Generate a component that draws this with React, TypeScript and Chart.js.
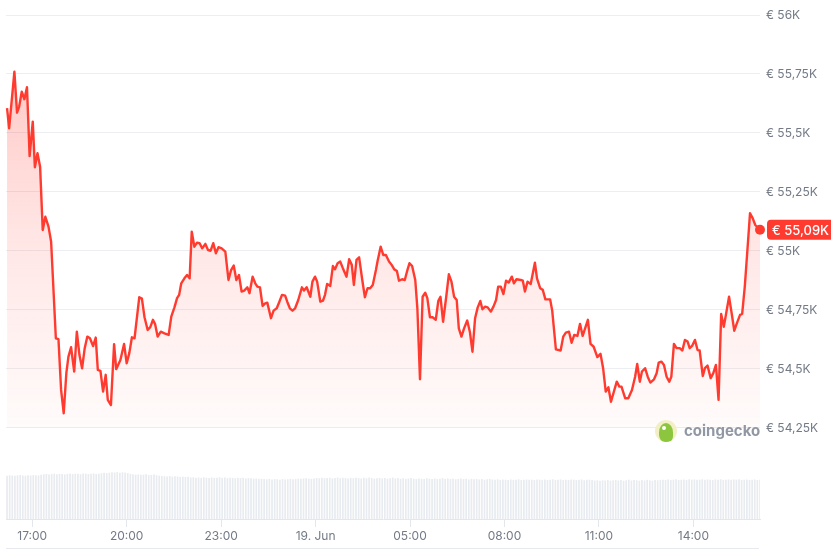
import React, { useEffect, useRef } from 'react';
import { Chart, registerables } from 'chart.js';

Chart.register(...registerables);

// Time in minutes after 16:00 on 18 Jun
const priceTimes = [
  12,16,26,31,35,40,45,50,55,61,
  65,70,75,80,85,91,96,105,110,115,
  120,125,129,134,140,145,150,155,160,165,
  170,176,181,185,190,195,200,204,210,216,
  220,228,235,240,245,250,255,264,269,274,
  280,285,290,294,299,305,312,320,325,331,
  336,340,344,350,355,360,364,369,374,379,
  384,390,395,400,405,410,415,421,428,434,
  439,444,449,454,459,464,470,474,480,485,
  489,494,499,504,508,515,520,526,531,536,
  542,546,551,556,561,567,574,578,583,590,
  594,599,603,609,614,618,622,628,633,637,
  642,647,652,659,664,669,673,678,683,689,
  694,699,704,709,715,718,724,729,734,740,
  745,750,755,759,765,770,775,779,784,790,
  794,799,804,809,813,818,823,829,834,838,
  843,849,854,859,864,869,873,878,883,889,
  894,899,904,909,914,918,923,928,934,939,
  944,948,953,958,963,968,974,978,983,991,
  995,999,1004,1010,1018,1022,1028,1033,1038,1047,
  1051,1058,1067,1072,1077,1083,1088,1093,1099,1104,
  1109,1119,1124,1130,1137,1143,1148,1153,1158,1163,
  1174,1179,1183,1190,1196,1203,1209,1213,1218,1222,
  1228,1233,1238,1245,1250,1254,1259,1264,1269,1274,
  1278,1283,1288,1294,1299,1304,1309,1313,1318,1323,
  1328,1332,1338,1342,1347,1353,1358,1363,1368,1373,
  1378,1382,1388,1393,1398,1403,1409,1413,1418,1423,
  1428,1433,1438,1447,
];

// Price in EUR
const prices = [
  55605,55520,55760,55586,55611,55675,55643,55694,55402,55548,
  55355,55414,55357,55089,55145,55103,55039,54630,54626,54411,
  54312,54482,54552,54592,54489,54658,54559,54503,54588,54637,
  54630,54597,54633,54496,54492,54404,54475,54369,54347,54605,
  54499,54538,54606,54524,54567,54634,54630,54804,54798,54719,
  54665,54677,54708,54691,54637,54658,54651,54644,54722,54761,
  54800,54814,54863,54884,54898,54884,55082,55018,55035,55033,
  55011,55030,55004,55001,55033,54990,55016,55011,54997,54877,
  54919,54938,54877,54898,54828,54832,54846,54821,54891,54863,
  54849,54846,54767,54778,54781,54715,54747,54757,54785,54814,
  54811,54785,54757,54747,54757,54792,54846,54832,54846,54806,
  54870,54891,54870,54785,54789,54814,54860,54852,54936,54922,
  54948,54955,54927,54891,54965,54941,54856,54962,54973,54877,
  54804,54842,54842,54856,54919,54955,55018,54983,54983,54955,
  54941,54922,54915,54874,54880,54877,54919,54948,54936,54877,
  54757,54456,54806,54823,54800,54719,54719,54708,54789,54806,
  54700,54806,54901,54870,54806,54792,54672,54637,54672,54705,
  54658,54573,54715,54761,54788,54753,54764,54761,54743,54764,
  54792,54849,54849,54817,54874,54866,54891,54863,54880,54877,
  54874,54828,54870,54860,54950,54884,54842,54835,54795,54795,
  54747,54583,54578,54637,54654,54658,54611,54644,54640,54691,
  54640,54708,54606,54594,54550,54564,54503,54404,54422,54361,
  54446,54425,54425,54376,54376,54411,54467,54521,54446,54489,
  54503,54467,54442,54456,54482,54527,54531,54517,54467,54446,
  54467,54606,54588,54588,54578,54623,54616,54588,54599,54623,
  54580,54578,54470,54503,54514,54461,54482,54517,54369,54733,
  54679,54729,54806,54736,54662,54694,54729,54733,54849,55004,
  55160,55139,55110,55090,
];

// Volume bars: one every 5 minutes, starting 16:12
const volumeStartMinute = 12;
const volumeStepMinutes = 5;
const volumes = [
  21.5,21.7,21.6,21.4,21.7,21.8,21.6,21.5,21.7,21.6,21.8,21.7,
  21.6,21.9,22.2,22.4,22.1,22.3,22.5,22.2,22.4,22.3,22.1,22.4,
  22.6,22.3,22.5,22.4,22.2,22.6,22.5,22.3,22.4,22.6,22.4,22.5,
  22.7,22.9,22.8,23.0,23.2,23.1,23.3,23.0,23.2,23.1,22.8,22.4,
  22.2,22.0,22.1,21.9,22.0,22.2,21.8,21.9,22.1,21.7,21.5,21.3,
  21.2,21.1,21.3,21.0,21.2,21.1,20.9,21.0,20.8,20.9,20.6,20.7,
  20.5,20.6,20.4,20.7,20.5,20.3,20.6,20.4,20.5,20.7,20.4,20.6,
  20.3,20.5,20.4,20.2,20.5,20.3,20.4,20.1,20.3,20.2,20.0,20.1,
  19.9,20.0,19.8,19.7,19.9,19.6,19.8,19.7,19.5,19.8,19.6,19.7,
  19.9,19.7,19.8,20.0,19.9,20.1,20.2,20.0,19.9,20.1,20.3,20.2,
  20.4,20.2,20.3,20.5,20.1,20.3,20.6,20.2,20.4,20.3,20.1,20.4,
  20.2,20.5,20.3,20.1,20.4,20.2,20.6,20.3,20.0,20.2,20.4,20.1,
  20.3,20.0,20.2,20.6,20.1,20.3,20.0,20.2,19.9,20.1,20.3,20.0,
  19.8,20.1,20.0,19.9,20.2,20.0,19.8,20.1,19.9,20.0,20.3,19.9,
  20.1,19.8,20.0,19.7,19.9,20.1,19.8,20.0,19.6,19.9,19.7,19.8,
  19.6,19.8,19.5,19.7,19.9,19.6,19.5,19.7,19.4,19.6,19.5,19.3,
  19.6,19.4,19.5,19.7,19.3,19.5,19.6,19.4,19.5,19.3,19.6,19.5,
  19.4,19.6,19.3,19.5,19.7,19.4,19.5,19.6,19.3,19.5,19.4,19.6,
  19.5,19.3,19.4,19.6,19.2,19.4,19.5,19.3,19.1,19.2,19.0,19.2,
  19.1,19.3,19.0,19.2,19.4,19.1,19.3,19.0,19.2,19.5,19.1,19.3,
  19.2,19.0,19.3,19.1,19.4,19.2,19.0,19.3,19.2,19.4,19.5,19.3,
  19.6,19.4,19.5,19.7,19.3,19.5,19.6,19.4,19.7,19.5,19.6,19.4,
  19.5,19.7,19.4,19.6,19.5,19.3,19.6,19.5,19.7,19.4,19.5,19.6,
  19.4,19.6,19.5,19.7,19.3,19.5,19.6,19.4,19.5,19.6,19.3,19.5,
];

const xTickValues = [60, 240, 420, 600, 780, 960, 1140, 1320];
const xTickLabels = ['17:00', '20:00', '23:00', '19. Jun', '05:00', '08:00', '11:00', '14:00'];

const priceTickValues = [54250, 54500, 54750, 55000, 55250, 55500, 55750, 56000];
const priceTickLabels = ['€ 54,25K', '€ 54,5K', '€ 54,75K', '€ 55K', '€ 55,25K', '€ 55,5K', '€ 55,75K', '€ 56K'];

const lastPriceLabel = '€ 55,09K';

const RED = '#ff3b30';
const AXIS_TEXT = '#737a86';
const GRID = '#eceef1';
const FONT = 'Inter, "Noto Sans", sans-serif';

const lastPricePlugin = {
  id: 'lastPriceTag',
  afterDraw(chart: any) {
    const { ctx, chartArea, scales } = chart;
    const y = scales.y.getPixelForValue(prices[prices.length - 1]);
    ctx.save();
    ctx.font = `500 13px ${FONT}`;
    const tw = ctx.measureText(lastPriceLabel).width;
    const x0 = chartArea.right + 7;
    const w = tw + 10;
    const h = 20;
    ctx.fillStyle = RED;
    ctx.beginPath();
    if (ctx.roundRect) ctx.roundRect(x0, y - h / 2, w, h, 4);
    else ctx.rect(x0, y - h / 2, w, h);
    ctx.fill();
    ctx.fillStyle = '#ffffff';
    ctx.textBaseline = 'middle';
    ctx.textAlign = 'left';
    ctx.fillText(lastPriceLabel, x0 + 5, y + 1);
    ctx.restore();
  },
};

export default function App() {
  const canvasRef = useRef<HTMLCanvasElement | null>(null);

  useEffect(() => {
    const canvas = canvasRef.current;
    if (!canvas) return;

    const lineData = priceTimes.map((t, i) => ({ x: t, y: prices[i] }));
    const volData = volumes.map((v, i) => ({ x: volumeStartMinute + i * volumeStepMinutes, y: v }));

    const chart = new Chart(canvas, {
      type: 'line',
      data: {
        datasets: [
          {
            type: 'line',
            data: lineData,
            xAxisID: 'x',
            yAxisID: 'y',
            borderColor: RED,
            borderWidth: 2.4,
            borderJoinStyle: 'round',
            tension: 0,
            clip: false as any,
            pointRadius: (c: any) => (c.dataIndex === prices.length - 1 ? 5 : 0),
            pointBackgroundColor: RED,
            pointBorderWidth: 0,
            fill: { value: 54250 } as any,
            backgroundColor: (c: any) => {
              const chart = c.chart;
              const { chartArea, scales } = chart;
              if (!chartArea || !scales.y) return 'rgba(255,59,48,0.12)';
              const g = chart.ctx.createLinearGradient(
                0,
                scales.y.getPixelForValue(55800),
                0,
                scales.y.getPixelForValue(54250)
              );
              g.addColorStop(0, 'rgba(255,59,48,0.28)');
              g.addColorStop(0.5, 'rgba(255,59,48,0.12)');
              g.addColorStop(1, 'rgba(255,59,48,0.02)');
              return g;
            },
            order: 0,
          } as any,
          {
            type: 'bar',
            data: volData,
            xAxisID: 'x',
            yAxisID: 'yv',
            backgroundColor: '#e8ebef',
            barThickness: 1,
            order: 1,
          } as any,
        ],
      },
      options: {
        animation: false,
        responsive: false,
        maintainAspectRatio: false,
        events: [],
        layout: { padding: { left: 6, top: 15, right: 0, bottom: 0 } },
        plugins: {
          legend: { display: false },
          tooltip: { enabled: false },
        },
        scales: {
          x: {
            type: 'linear',
            min: 10,
            max: 1447,
            offset: false,
            position: 'bottom',
            afterBuildTicks: (s: any) => {
              s.ticks = xTickValues.map((v) => ({ value: v }));
            },
            afterFit: (s: any) => {
              s.height = 34;
            },
            grid: {
              offset: false,
              drawOnChartArea: false,
              drawTicks: true,
              tickLength: 8,
              color: '#e3e6ea',
            },
            border: { display: true, color: '#e3e6ea' },
            ticks: {
              autoSkip: false,
              maxRotation: 0,
              padding: 2,
              color: AXIS_TEXT,
              font: { family: FONT, size: 12 },
              callback: (v: any) => {
                const i = xTickValues.indexOf(Number(v));
                return i >= 0 ? xTickLabels[i] : '';
              },
            },
          },
          y: {
            type: 'linear',
            position: 'right',
            min: 53864,
            max: 56000,
            afterBuildTicks: (s: any) => {
              s.ticks = priceTickValues.map((v) => ({ value: v }));
            },
            afterFit: (s: any) => {
              s.width = 71;
            },
            grid: { color: GRID, drawTicks: false },
            border: { display: false },
            ticks: {
              padding: 6,
              color: AXIS_TEXT,
              font: { family: FONT, size: 12 },
              callback: (v: any) => {
                const i = priceTickValues.indexOf(Number(v));
                return i >= 0 ? priceTickLabels[i] : '';
              },
            },
          },
          yv: {
            type: 'linear',
            display: false,
            min: 0,
            max: 252,
          },
        },
      } as any,
      plugins: [lastPricePlugin],
    });

    return () => chart.destroy();
  }, []);

  return (
    <div
      style={{
        position: 'fixed',
        left: 0,
        top: 0,
        width: 831,
        height: 553,
        background: '#ffffff',
        overflow: 'hidden',
      }}
    >
      <canvas ref={canvasRef} width={831} height={553} style={{ display: 'block' }} />
      <div
        style={{
          position: 'absolute',
          left: 655,
          top: 420,
          width: 22,
          height: 22,
          borderRadius: '50%',
          background: '#f3efc4',
          overflow: 'hidden',
        }}
      >
        <div
          style={{
            position: 'absolute',
            left: 4,
            top: 3,
            width: 14,
            height: 19,
            borderRadius: '50% 50% 30% 40%',
            background: '#8cc63f',
          }}
        />
        <div
          style={{
            position: 'absolute',
            left: 7,
            top: 6,
            width: 4,
            height: 4,
            borderRadius: '50%',
            background: '#ffffff',
          }}
        />
      </div>
      <div
        style={{
          position: 'absolute',
          left: 684,
          top: 421,
          fontFamily: FONT,
          fontWeight: 700,
          fontSize: 15,
          color: '#9198a4',
          lineHeight: '20px',
        }}
      >
        coingecko
      </div>
      <div
        style={{
          position: 'absolute',
          left: 6,
          top: 548,
          width: 753,
          height: 1,
          background: '#e6e9ee',
        }}
      />
    </div>
  );
}
